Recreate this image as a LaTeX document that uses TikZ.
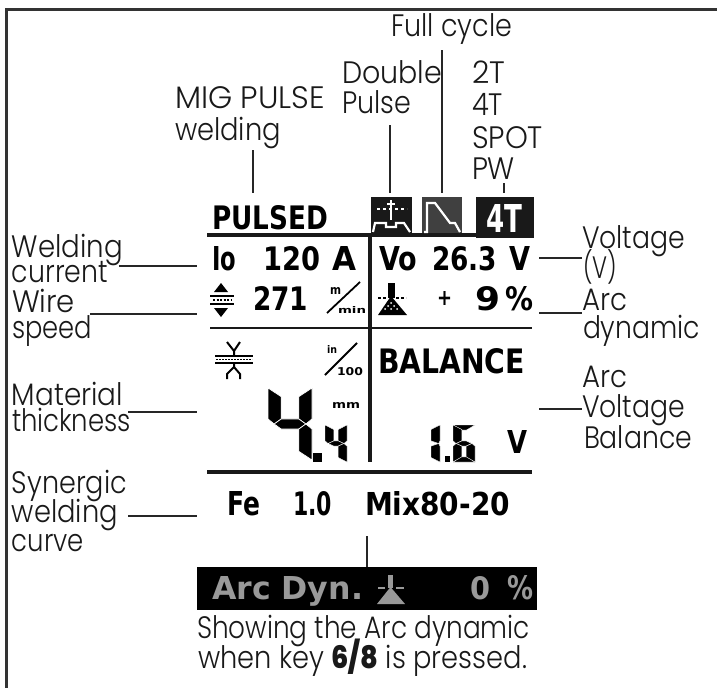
\documentclass[tikz,border=0pt]{standalone}
\usepackage{fontspec}
\usepackage{graphicx}
\setmainfont{Poppins Light}[BoldFont=Poppins ExtraBold]
\newfontfamily\lcdfont{DejaVu Sans Bold}
\tikzset{
  txtlabel/.style={anchor=base west,inner sep=0pt,outer sep=0pt,text=black!90,font=\fontsize{31}{31}\selectfont},
  lcdtext/.style={anchor=base west,inner sep=0pt,outer sep=0pt,text=black,font=\lcdfont\fontsize{20}{20}\selectfont},
  leader/.style={line width=1.7pt,draw=black!85},
  rule/.style={line width=2pt,draw=black!90},
  thickrule/.style={line width=3.2pt,draw=black!90},
  frameline/.style={line width=3pt,draw=black!80},
  iconbox/.style={fill=black!90,draw=none},
  whiteline/.style={line width=2.2pt,draw=white},
  blackline/.style={line width=2pt,draw=black},
  seg/.style={fill=black,draw=white,line width=.7pt},
  smallseg/.style={fill=black,draw=white,line width=.4pt},
}
\newcommand{\lab}[5]{\node[txtlabel] (#1) at (#2,#3) {\resizebox{#4pt}{\height}{#5}};}
\newcommand{\lcd}[7][]{\node[lcdtext,#1] (#2) at (#3,#6) {\resizebox{\dimexpr#5pt-#3pt\relax}{\dimexpr#6pt-#4pt\relax}{#7}};}
\newcommand{\segT}{.3}
\newcommand{\segU}{.7}
\newcommand{\sega}{\path[seg] (0,0)--(1,0)--(\segU,.14)--(\segT,.14)--cycle;}
\newcommand{\segd}{\path[seg] (0,1)--(1,1)--(\segU,.86)--(\segT,.86)--cycle;}
\newcommand{\segf}{\path[seg] (0,0)--(\segT,.12)--(\segT,.43)--(.14,.5)--(0,.43)--cycle;}
\newcommand{\segb}{\path[seg] (1,0)--(\segU,.12)--(\segU,.43)--(.86,.5)--(1,.43)--cycle;}
\newcommand{\sege}{\path[seg] (0,1)--(\segT,.88)--(\segT,.57)--(.14,.5)--(0,.57)--cycle;}
\newcommand{\segc}{\path[seg] (1,1)--(\segU,.88)--(\segU,.57)--(.86,.5)--(1,.57)--cycle;}
\newcommand{\segg}{\path[seg] (.14,.5)--(\segT,.43)--(\segU,.43)--(.86,.5)--(\segU,.57)--(\segT,.57)--cycle;}
\begin{document}
\begin{tikzpicture}[x=1pt,y=-1pt]
\useasboundingbox (0,0) rectangle (717,688);
\draw[frameline] (717,9.5) -- (6.5,9.5) -- (6.5,688);
\draw[thickrule] (207,235) -- (533,235);
\draw[thickrule] (370,235) -- (370,462);
\draw[rule] (210,328) -- (532,328);
\draw[thickrule] (207,472) -- (532,472);
% top labels
\lab{fullcycle}{391}{37}{121}{Full cycle}
\lab{mig}{175}{108}{150}{MIG PULSE}
\lab{migb}{175}{140}{106}{welding}
\lab{dbl}{342}{83}{100}{Double}
\lab{dblb}{342}{113}{69}{Pulse}
\lab{tt}{472}{83}{33}{2T}
\lab{ft}{472}{115}{31}{4T}
\lab{spot}{472}{148}{71}{SPOT}
\lab{pw}{472}{179}{43}{PW}
% left labels
\lab{wc}{12}{257}{111}{Welding}
\lab{wcb}{12}{282}{96}{current}
\lab{ws}{12}{312}{63}{Wire}
\lab{wsb}{12}{338}{80}{speed}
\lab{mt}{12}{405}{111}{Material}
\lab{mtb}{12}{431}{119}{thickness}
\lab{sy}{12}{493}{115}{Synergic}
\lab{syb}{12}{522}{106}{welding}
\lab{syc}{12}{551}{72}{curve}
% right labels
\lab{vo}{582}{248}{103}{Voltage}
\lab{vob}{583}{278}{34}{(V)}
\lab{ad}{582}{310}{45}{Arc}
\lab{adb}{583}{338}{117}{dynamic}
\lab{av}{582}{387}{45}{Arc}
\lab{avb}{582}{417}{103}{Voltage}
\lab{avc}{584}{448}{108}{Balance}
% bottom labels
\lab{show}{197}{638}{333}{Showing the Arc dynamic}
\node[txtlabel] (showb) at (198,668) {\resizebox{329pt}{\height}{when key \textbf{6/8} is pressed.}};
% LCD header
\lcd{pulsed}{212}{205}{328}{229}{PULSED}
\path[iconbox] (371,197) rectangle (412,235);
\draw[whiteline] (373,232) -- (375,223) -- (386,223) -- (386,227) -- (396,227) -- (396,223) -- (404,223) -- (410,232);
\draw[whiteline] (391,200) -- (391,220);
\draw[whiteline,dash pattern=on 3pt off 3pt] (377,209) -- (407,209);
\draw[whiteline] (387,204) -- (395,204);
\path[iconbox,fill=black!75] (422,197) rectangle (462,233);
\draw[whiteline] (424,232) -- (427,232) -- (427,203) -- (435,203) -- (450,223) -- (455,223) -- (460,232);
\path[iconbox] (476,197) rectangle (534,238);
\lcd[text=white]{fourT}{486}{204}{522}{232}{4T}
% LCD row 1
\lcd{io}{212}{246}{236}{270}{Io}
\lcd{iv}{263}{246}{320}{270}{120}
\lcd{iu}{332}{246}{356}{270}{A}
\lcd{vo2}{379}{246}{417}{270}{Vo}
\lcd{vv}{432}{246}{497}{270}{26.3}
\lcd{vu}{509}{246}{530}{270}{V}
% LCD row 2
\path[fill=black] (221,283) -- (214,292) -- (228,292) -- cycle (221,317) -- (214,308) -- (228,308) -- cycle;
\draw[blackline] (210,296) -- (234,296) (210,304) -- (234,304);
\draw[line width=1.4pt,dash pattern=on 2pt off 1.5pt] (213,300) -- (231,300);
\lcd{wv}{253}{286}{308}{310}{271}
\lcd{mtop}{330}{287}{341}{294}{m}
\lcd{mbot}{338}{306}{366}{313}{min}
\draw[line width=1.8pt] (327,313) -- (360,282);
\path[fill=black] (388,283) rectangle (395,298);
\path[fill=black] (391,296) -- (378,315) -- (407,315) -- cycle;
\draw[blackline,dash pattern=on 3pt off 2pt] (378,298) -- (386,298) (396,298) -- (406,298);
\path[fill=white] (385,309) circle (1pt) (391,303) circle (1pt) (397,309) circle (1pt) (391,309) circle (1pt) (388,306) circle (1pt) (394,306) circle (1pt);
\lcd{ap}{437}{291}{452}{305}{+}
\lcd{an}{475}{286}{500}{310}{9}
\lcd{apc}{505}{286}{533}{310}{\%}
% material icon
\draw[blackline] (215,356) -- (253,356) (215,363) -- (253,363);
\draw[line width=1.2pt,dash pattern=on 2pt off 1pt] (216,359.5) -- (252,359.5);
\draw[blackline] (227,342) -- (234,351) -- (240,342) (234,351) -- (234,355);
\draw[blackline] (227,379) -- (227,374) -- (234,367) -- (240,374) -- (240,379) (234,364) -- (234,367);
% in/100
\lcd{intop}{327}{345}{337}{353}{in}
\lcd{inbot}{337}{367}{363}{375}{100}
\draw[line width=1.8pt] (325,375) -- (357,343);
\lcd{bal}{378}{348}{525}{373}{BALANCE}
\lcd{mm}{332}{402}{360}{408}{mm}
% big digits
\begin{scope}[shift={(268,388)},xscale=44,yscale=72] \segf\segb\segg\segc \end{scope}
\path[fill=black] (313,453) rectangle (322,462);
\begin{scope}[shift={(325,425)},xscale=22,yscale=37,seg/.style={smallseg}] \def\segT{.4}\def\segU{.6}\segf\segb\segg\segc \end{scope}
\begin{scope}[shift={(430,425)},xscale=10,yscale=37,seg/.style={smallseg}] \def\segU{.1}\segb\segc \end{scope}
\path[fill=black] (445,456) rectangle (450,462);
\begin{scope}[shift={(453,425)},xscale=22,yscale=37,seg/.style={smallseg}] \def\segT{.4}\def\segU{.6}\sega\segf\segg\sege\segc\segd \end{scope}
\lcd{bu}{507}{430}{527}{453}{V}
% bottom row
\lcd{fe}{227}{491}{260}{515}{Fe}
\lcd{dia}{293}{491}{332}{515}{1.0}
\lcd{gas}{365}{491}{510}{515}{Mix80-20}
% dark bar
\path[fill=black] (197,567) rectangle (537,610);
\lcd[text=black!40]{ad2}{212}{576}{363}{599}{Arc Dyn.}
\path[fill=black!40] (388,575) rectangle (393,588);
\path[fill=black!40] (390.5,587) -- (377,604) -- (405,604) -- cycle;
\draw[line width=1.2pt,black!40] (378,588) -- (385,588) (396,588) -- (404,588);
\lcd[text=black!40]{az}{470}{576}{490}{599}{0}
\lcd[text=black!40]{apc2}{507}{575}{533}{599}{\%}
% leader end points
\coordinate (l1a) at (253,150); \coordinate (l1b) at (253,193);
\coordinate (l2a) at (390,125); \coordinate (l2b) at (390,193);
\coordinate (l3a) at (442,50);  \coordinate (l3b) at (442,193);
\coordinate (l4a) at (504,183); \coordinate (l4b) at (504,193);
\coordinate (l5a) at (119,266); \coordinate (l5b) at (197,266);
\coordinate (l6a) at (90,314);  \coordinate (l6b) at (197,314);
\coordinate (l7a) at (128,412); \coordinate (l7b) at (197,412);
\coordinate (l8a) at (128,516); \coordinate (l8b) at (197,516);
\coordinate (r1a) at (539,258); \coordinate (r1b) at (582,258);
\coordinate (r2a) at (539,313); \coordinate (r2b) at (582,313);
\coordinate (r3a) at (539,409); \coordinate (r3b) at (582,409);
\coordinate (b1a) at (367,536); \coordinate (b1b) at (367,567);
\foreach \p in {l1,l2,l3,l4,l5,l6,l7,l8,r1,r2,r3,b1}
  \draw[leader] (\p a) -- (\p b);
\end{tikzpicture}
\end{document}
